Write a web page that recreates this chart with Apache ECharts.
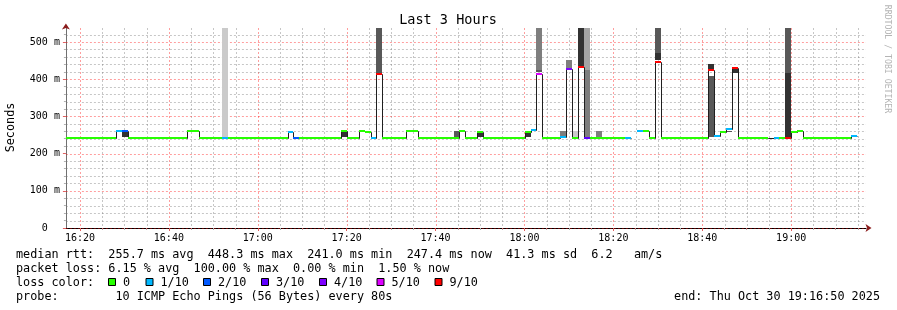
<!DOCTYPE html>
<html><head><meta charset="utf-8">
<script src="https://cdn.jsdelivr.net/npm/echarts@6/dist/echarts.min.js"></script>
<style>html,body{margin:0;padding:0;background:#fff}#c{width:897px;height:310px}</style>
</head><body><div id="c"></div>
<script>
// ---- time layout of the data (80 s steps) ----
const AXIS_START = '16:16:50';
const AXIS_END = '19:16:50';
const FIRST_STEP_END = '16:17:22';
const STEP_SECONDS = 80;

// ---- median RTT per step (ms), null = 100% loss / no data ----
const medianMs = [
  242.5,242.5,242.5,242.5,242.5,242.5,242.5,242.5,242.5,260,
  260,242.5,242.5,242.5,242.5,242.5,242.5,242.5,242.5,242.5,
  242.5,261,261,242.5,242.5,242.5,242.5,242.5,242.5,242.5,
  242.5,242.5,242.5,242.5,242.5,242.5,242.5,242.5,259,242.5,
  242.5,242.5,242.5,242.5,242.5,242.5,242.5,260,242.5,242.5,
  261,258,242.5,413,242.5,242.5,242.5,242.5,261,261,
  242.5,242.5,242.5,242.5,242.5,242.5,242.5,262,242.5,242.5,
  258,242.5,242.5,242.5,242.5,242.5,242.5,242.5,259,263,
  415,242.5,242.5,242.5,245,428,242.5,432,242.5,242.5,
  242.5,242.5,242.5,242.5,242.5,242,null,261,261,242.5,
  447,242.5,242.5,241,242.5,242.5,242.5,242.5,242.5,424,
  247,258,267,430,242.5,241,242.5,242.5,242.5,242,
  242.5,242.5,242.5,259,261,242.5,242.5,242.5,242.5,242.5,
  242.5,242.5,242.5,247.4,null,null
];

// ---- lost pings out of 10 per step (null = no loss colour drawn) ----
const lossTenths = [
  0,0,0,0,0,0,0,0,0,1,
  2,0,0,0,0,0,0,0,0,0,
  0,0,0,0,0,0,0,1,0,0,
  0,0,0,0,0,0,0,0,1,2,
  0,0,0,0,0,0,0,0,0,0,
  0,0,1,9,0,0,0,0,0,0,
  0,0,0,0,0,0,0,0,0,0,
  0,0,0,0,0,0,0,0,0,1,
  5,0,0,0,1,4,0,9,3,0,
  0,0,0,0,0,1,10,1,0,0,
  9,0,0,0,0,0,0,0,0,9,
  1,0,1,9,0,0,0,0,0,null,
  1,0,9,0,0,0,0,0,0,0,
  0,0,0,1,null,null
];

// ---- smoke bands: step index, low ms, high ms, shade (1 light .. 5 dark) ----
const smokeStep  = [10, 27, 47, 53, 66, 70, 78, 80, 80, 84, 85, 86, 87, 88, 88, 90, 100, 100, 109, 109, 112, 113, 122, 122];
const smokeLow   = [244,245,244,417,245,244,244,418,426,248,431,245,436,245,425,245,451,471,245,426,259,416,245,416];
const smokeHigh  = [257,600,257,600,260,255,256,426,600,262,452,260,600,425,600,260,471,600,409,441,262,428,416,600];
const smokeShade = [5,1,5,4,4,5,5,4,3,3,3,1,5,3,2,3,5,4,4,5,4,5,5,4];

// ---- axes ----
const xMajorTicks = ['16:20','16:40','17:00','17:20','17:40','18:00','18:20','18:40','19:00'];
const xMinorTicks = ['16:25','16:30','16:35','16:45','16:50','16:55','17:05','17:10','17:15','17:25','17:30','17:35',
  '17:45','17:50','17:55','18:05','18:10','18:15','18:25','18:30','18:35','18:45','18:50','18:55','19:05','19:10','19:15'];
const yMajorTicks = [0,100,200,300,400,500];
const yMinorTicks = [20,40,60,80,120,140,160,180,220,240,260,280,320,340,360,380,420,440,460,480,520];
const yMaxMs = 537.6;

// ---- loss legend ----
const lossLevels = [0,1,2,3,4,5,9];
const lossLabels = ['0','1/10','2/10','3/10','4/10','5/10','9/10'];
const lossColors = ['#26ff00','#00b8ff','#0059ff','#5e00ff','#7e00ff','#dd00ff','#ff0000'];
const smokeColors = [null,'#cacaca','#a4a4a4','#7e7e7e','#585858','#323232'];

// ---- text ----
const titleText = 'Last 3 Hours';
const legendLines = [
  'median rtt:  255.7 ms avg  448.3 ms max  241.0 ms min  247.4 ms now  41.3 ms sd  6.2   am/s',
  'packet loss: 6.15 % avg  100.00 % max  0.00 % min  1.50 % now',
  'loss color:',
  'probe:        10 ICMP Echo Pings (56 Bytes) every 80s'
];
const endText = 'end: Thu Oct 30 19:16:50 2025';

// ================= build =================
const toMin = s => { const p = s.split(':').map(Number); return p[0]*60 + p[1] + (p[2]||0)/60; };
const fmtHM = v => { const h = Math.floor(v/60), m = Math.round(v - h*60); return String(h).padStart(2,'0') + ':' + String(m).padStart(2,'0'); };
const stepMin = STEP_SECONDS/60;
const firstEnd = toMin(FIRST_STEP_END);
const stepEnd = i => firstEnd + i*stepMin;
const stepStart = i => stepEnd(i) - stepMin;
const xMin = toMin(AXIS_START), xMax = toMin(AXIS_END);
const xMajorVals = xMajorTicks.map(toMin);
const xMinorVals = xMinorTicks.map(toMin);

function lossColorIndex(l) {
  if (l == null) return -1;
  for (let k = 0; k < lossLevels.length; k++) if (l <= lossLevels[k]) return k;
  return -1;
}

const smokeData = smokeStep.map((s,k) => [stepStart(s), stepEnd(s), smokeLow[k], smokeHigh[k], smokeShade[k]]);
const medianData = [], bandData = [];
medianMs.forEach((m,i) => {
  if (m == null) return;
  const prev = (i > 0 && medianMs[i-1] != null) ? medianMs[i-1] : -1;
  medianData.push([stepStart(i), stepEnd(i), m, prev]);
  const ci = lossColorIndex(lossTenths[i]);
  if (ci >= 0) bandData.push([stepStart(i), stepEnd(i), m, ci]);
});
const vGridData = xMajorVals.map(v => [v, 1]).concat(xMinorVals.map(v => [v, 0]));
const hGridData = yMajorTicks.map(v => [xMin, v, 1]).concat(yMinorTicks.map(v => [xMin, v, 0]));

const MAJOR = 'rgba(255,0,0,0.38)', MINOR = 'rgba(120,120,120,0.42)';
const clip = (shape, cs) => echarts.graphic.clipRectByRect(shape, {x: cs.x, y: cs.y, width: cs.width, height: cs.height});

function renderVGrid(params, api) {
  const cs = params.coordSys;
  const x = Math.round(api.coord([api.value(0), 0])[0]) + 0.5;
  return {type:'line', silent:true, shape:{x1:x, y1:cs.y, x2:x, y2:cs.y+cs.height},
    style:{stroke: api.value(1) ? MAJOR : MINOR, lineWidth:1, lineDash:[2,2]}};
}
function renderHGrid(params, api) {
  const cs = params.coordSys;
  const y = Math.round(api.coord([xMin, api.value(1)])[1]) + 0.5;
  return {type:'line', silent:true, shape:{x1:cs.x, y1:y, x2:cs.x+cs.width, y2:y},
    style:{stroke: api.value(2) ? MAJOR : MINOR, lineWidth:1, lineDash:[2,2]}};
}
function renderSmoke(params, api) {
  const cs = params.coordSys;
  const p1 = api.coord([api.value(0), api.value(3)]);
  const p2 = api.coord([api.value(1), api.value(2)]);
  const x0 = Math.round(p1[0]), x1 = Math.round(p2[0]);
  const y0 = Math.round(p1[1]), y1 = Math.round(p2[1]);
  const shape = clip({x:x0, y:y0, width:x1-x0, height:y1-y0}, cs);
  if (!shape) return null;
  return {type:'rect', silent:true, shape, style:{fill: smokeColors[api.value(4)]}};
}
function renderMedian(params, api) {
  const cs = params.coordSys;
  const m = api.value(2), prev = api.value(3);
  let x0 = Math.round(api.coord([api.value(0), m])[0]);
  let x1 = Math.round(api.coord([api.value(1), m])[0]);
  x0 = Math.max(x0, Math.round(cs.x)); x1 = Math.min(x1, Math.round(cs.x + cs.width));
  const y = Math.round(api.coord([api.value(0), m])[1]) + 0.5;
  const pts = [];
  if (prev >= 0) {
    const yp = Math.round(api.coord([api.value(0), prev])[1]) + 0.5;
    pts.push([x0 + 0.5, yp], [x0 + 0.5, y]);
  } else pts.push([x0, y]);
  pts.push([x1 + 0.5, y]);
  return {type:'polyline', silent:true, shape:{points:pts}, style:{stroke:'#202020', lineWidth:1, fill:null}};
}
function renderBand(params, api) {
  const cs = params.coordSys;
  const p1 = api.coord([api.value(0), api.value(2)]);
  const p2 = api.coord([api.value(1), api.value(2)]);
  const x0 = Math.round(p1[0]), x1 = Math.round(p2[0]);
  const y0 = Math.round(p1[1] - 1);
  const shape = clip({x:x0, y:y0, width:x1-x0, height:2}, cs);
  if (!shape) return null;
  return {type:'rect', silent:true, shape, style:{fill: lossColors[api.value(3)]}};
}

const MONO = '"DejaVu Sans Mono", "Liberation Mono", monospace';
const tickFont = {fontFamily: MONO, fontSize: 10, color: '#000'};

const graphic = [
  {type:'text', x:448, y:20, silent:true, style:{text:titleText, font:'13.5px ' + MONO, fill:'#000', align:'center', verticalAlign:'middle'}},
  {type:'text', x:11, y:127.5, rotation:Math.PI/2, silent:true, style:{text:'Seconds', font:'11.8px ' + MONO, fill:'#000', align:'center', verticalAlign:'middle'}},
  {type:'text', x:887.5, y:59, rotation:-Math.PI/2, silent:true, style:{text:'RRDTOOL / TOBI OETIKER', font:'8.2px ' + MONO, fill:'#b4b4b4', align:'center', verticalAlign:'middle'}},
  {type:'text', x:880, y:297, silent:true, style:{text:endText, font:'11.8px ' + MONO, fill:'#000', align:'right', verticalAlign:'middle'}}
];
const lineY = [255, 269, 283, 297];
legendLines.forEach((t,k) => graphic.push({type:'text', x:16, y:lineY[k], silent:true,
  style:{text:t, font:'11.8px ' + MONO, fill:'#000', align:'left', verticalAlign:'middle'}}));
const boxX = [108, 145.5, 203, 261, 319, 376.5, 434.5];
lossLabels.forEach((lab,k) => {
  graphic.push({type:'rect', silent:true, shape:{x:boxX[k]+0.5, y:278.5, width:7, height:7},
    style:{fill:lossColors[k], stroke:'#000', lineWidth:1}});
  graphic.push({type:'text', x:boxX[k]+15, y:lineY[2], silent:true,
    style:{text:lab, font:'11.8px ' + MONO, fill:'#000', align:'left', verticalAlign:'middle'}});
});

const chart = echarts.init(document.getElementById('c'), null, {renderer:'canvas'});
chart.setOption({
  animation: false,
  backgroundColor: '#ffffff',
  grid: {left: 65.9, right: 31, top: 28, bottom: 82, containLabel: false},
  xAxis: [
    {type:'value', min:xMin, max:xMax, position:'bottom',
      axisLine:{show:true, onZero:false, lineStyle:{color:'#000', width:1}},
      axisTick:{show:true, customValues:xMajorVals, length:3, lineStyle:{color:'#e06060'}},
      axisLabel:{show:true, customValues:xMajorVals, formatter:v => fmtHM(v), margin:5, ...tickFont},
      splitLine:{show:false}},
    {type:'value', min:xMin, max:xMax, position:'bottom',
      axisLine:{show:true, onZero:false, symbol:['none','arrow'], symbolSize:[6,6], symbolOffset:[0,5.5], lineStyle:{color:'#8b1c1c', width:0}},
      axisTick:{show:true, customValues:xMinorVals, length:2, lineStyle:{color:'#b0b0b0'}},
      axisLabel:{show:false}, splitLine:{show:false}}
  ],
  yAxis: [
    {type:'value', min:0, max:yMaxMs, position:'left',
      axisLine:{show:true, onZero:false, lineStyle:{color:'#707070', width:1}},
      axisTick:{show:true, customValues:yMajorTicks, length:3, lineStyle:{color:'#e06060'}},
      axisLabel:{show:true, customValues:yMajorTicks, formatter:v => v === 0 ? '0  ' : v + ' m', margin:6, ...tickFont},
      splitLine:{show:false}},
    {type:'value', min:0, max:yMaxMs, position:'left',
      axisLine:{show:true, onZero:false, symbol:['none','arrow'], symbolSize:[6,6], symbolOffset:[0,4.5], lineStyle:{color:'#8b1c1c', width:0}},
      axisTick:{show:true, customValues:yMinorTicks, length:2, lineStyle:{color:'#b0b0b0'}},
      axisLabel:{show:false}, splitLine:{show:false}}
  ],
  series: [
    {type:'custom', name:'vgrid', xAxisIndex:0, yAxisIndex:0, z:1, data:vGridData, encode:{x:0}, renderItem:renderVGrid, silent:true},
    {type:'custom', name:'hgrid', xAxisIndex:0, yAxisIndex:0, z:1, data:hGridData, encode:{x:0, y:1}, renderItem:renderHGrid, silent:true},
    {type:'custom', name:'smoke', xAxisIndex:0, yAxisIndex:0, z:2, data:smokeData, encode:{x:[0,1], y:[2,3]}, renderItem:renderSmoke, silent:true},
    {type:'custom', name:'median', xAxisIndex:0, yAxisIndex:0, z:3, data:medianData, encode:{x:[0,1], y:[2]}, renderItem:renderMedian, silent:true},
    {type:'custom', name:'loss', xAxisIndex:0, yAxisIndex:0, z:4, data:bandData, encode:{x:[0,1], y:[2]}, renderItem:renderBand, silent:true}
  ],
  graphic: graphic
});
</script>
</body></html>
